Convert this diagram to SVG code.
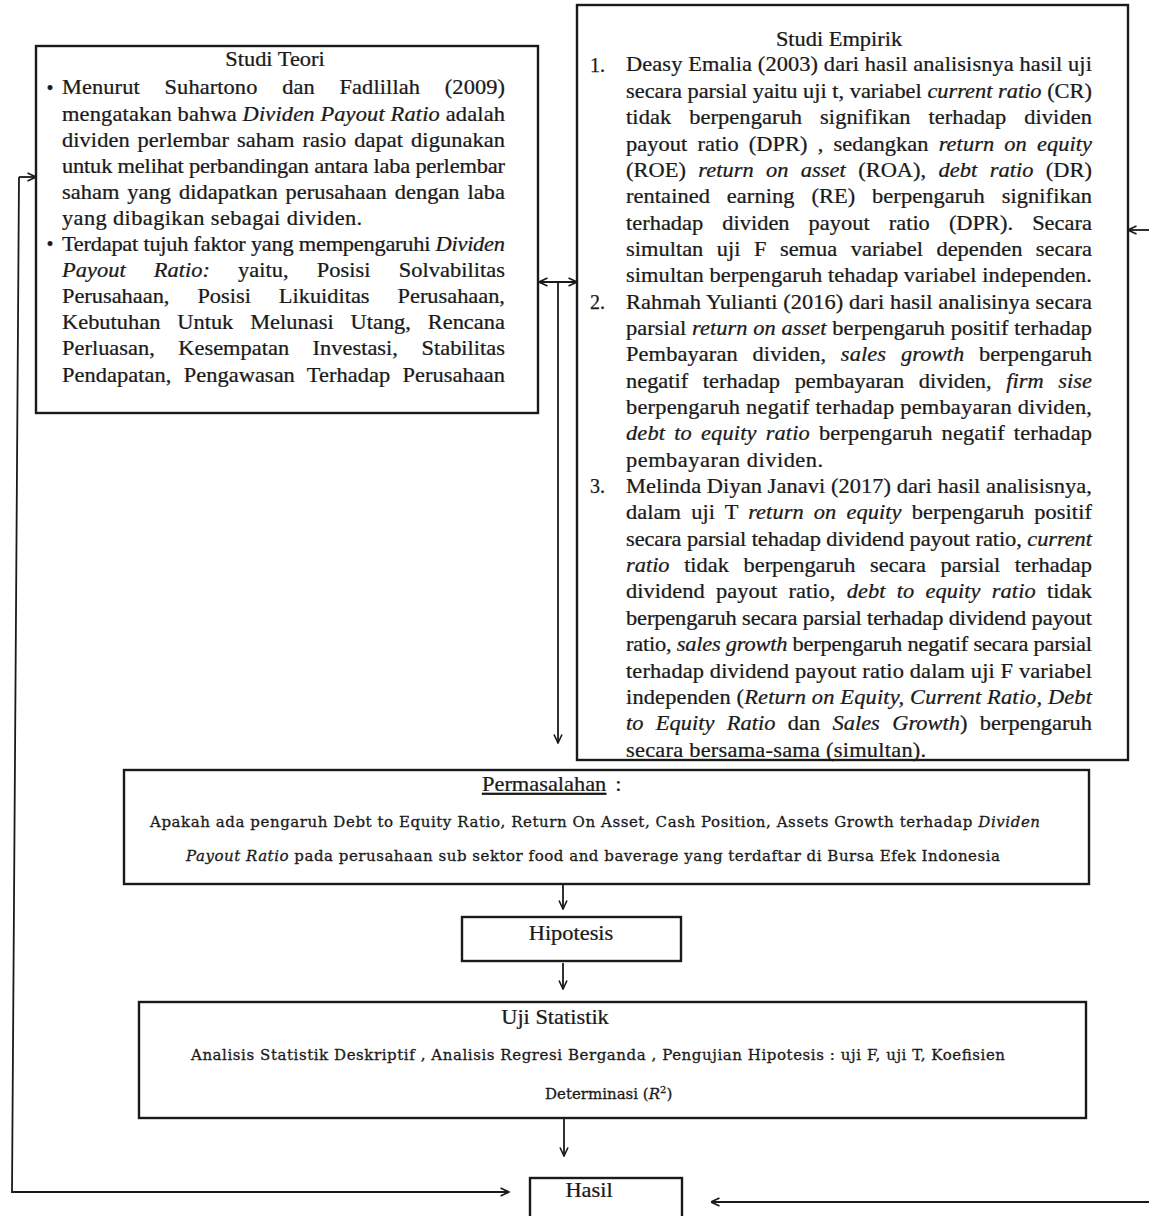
<svg xmlns="http://www.w3.org/2000/svg" width="1149" height="1216" viewBox="0 0 1149 1216">
<style>
.bg{fill:#ffffff}
.box{fill:#ffffff;stroke:#1a1a1a;stroke-width:2.4}
.t{font-family:"Liberation Serif","Times New Roman",serif;font-size:20px;fill:#1a1a1a;stroke:#1a1a1a;stroke-width:0.25}
.s{font-family:"DejaVu Serif",serif;font-size:15px;fill:#1a1a1a;stroke:#1a1a1a;stroke-width:0.3}
.i{font-style:italic}
.c{fill:none;stroke:#1a1a1a;stroke-width:1.8}
</style>
<defs>
<marker id="ah" viewBox="0 0 10 10" refX="9.5" refY="5" markerWidth="10" markerHeight="10" markerUnits="userSpaceOnUse" orient="auto-start-reverse">
<path d="M1,1 L9.5,5 L1,9" fill="none" stroke="#1a1a1a" stroke-width="1.6"/>
</marker>
</defs>
<rect class="bg" x="0" y="0" width="1149" height="1216"/>

<g id="studi-teori">
<rect class="box" x="36" y="46" width="502" height="367"/>
<text class="t" x="0" y="66" text-anchor="middle" transform="matrix(1.12,0,0,1,275,0)">Studi Teori</text>
<text class="t" x="50" y="94.5" text-anchor="middle">•</text>
<text class="t" x="50" y="251.1" text-anchor="middle">•</text>
<g transform="matrix(1.12,0,0,1,62,0)">
<text class="t" x="0" y="94.5" textLength="395.5" lengthAdjust="spacing" style="word-spacing:17px">Menurut Suhartono dan Fadlillah (2009)</text>
<text class="t" x="0" y="120.6" textLength="395.5" lengthAdjust="spacing">mengatakan bahwa <tspan class="i">Dividen Payout Ratio</tspan> adalah</text>
<text class="t" x="0" y="146.7" textLength="395.5" lengthAdjust="spacing" style="word-spacing:2px">dividen perlembar saham rasio dapat digunakan</text>
<text class="t" x="0" y="172.8" textLength="395.5" lengthAdjust="spacing">untuk melihat perbandingan antara laba perlembar</text>
<text class="t" x="0" y="198.9" textLength="395.5" lengthAdjust="spacing" style="word-spacing:2px">saham yang didapatkan perusahaan dengan laba</text>
<text class="t" x="0" y="225" textLength="268" lengthAdjust="spacing">yang dibagikan sebagai dividen.</text>
<text class="t" x="0" y="251.1" textLength="395.5" lengthAdjust="spacing">Terdapat tujuh faktor yang mempengaruhi <tspan class="i">Dividen</tspan></text>
<text class="t" x="0" y="277.2" textLength="395.5" lengthAdjust="spacing" style="word-spacing:20px"><tspan class="i">Payout Ratio:</tspan> yaitu, Posisi Solvabilitas</text>
<text class="t" x="0" y="303.3" textLength="395.5" lengthAdjust="spacing" style="word-spacing:20px">Perusahaan, Posisi Likuiditas Perusahaan,</text>
<text class="t" x="0" y="329.4" textLength="395.5" lengthAdjust="spacing" style="word-spacing:10px">Kebutuhan Untuk Melunasi Utang, Rencana</text>
<text class="t" x="0" y="355.5" textLength="395.5" lengthAdjust="spacing" style="word-spacing:16px">Perluasan, Kesempatan Investasi, Stabilitas</text>
<text class="t" x="0" y="381.6" textLength="395.5" lengthAdjust="spacing" style="word-spacing:6px">Pendapatan, Pengawasan Terhadap Perusahaan</text>
</g>
</g>

<g id="studi-empirik">
<rect class="box" x="577" y="5" width="551" height="755"/>
<text class="t" x="0" y="46" text-anchor="middle" transform="matrix(1.12,0,0,1,839,0)">Studi Empirik</text>
<text class="t" x="590" y="71.5">1.</text>
<text class="t" x="590" y="308.7">2.</text>
<text class="t" x="590" y="493.1">3.</text>
<g transform="matrix(1.12,0,0,1,626,0)">
<text class="t" x="0" y="71.5" textLength="416" lengthAdjust="spacing">Deasy Emalia (2003) dari hasil analisisnya hasil uji</text>
<text class="t" x="0" y="97.9" textLength="416" lengthAdjust="spacing">secara parsial yaitu uji t, variabel <tspan class="i">current ratio</tspan> (CR)</text>
<text class="t" x="0" y="124.2" textLength="416" lengthAdjust="spacing" style="word-spacing:11px">tidak berpengaruh signifikan terhadap dividen</text>
<text class="t" x="0" y="150.6" textLength="416" lengthAdjust="spacing" style="word-spacing:4px">payout ratio (DPR) , sedangkan <tspan class="i">return on equity</tspan></text>
<text class="t" x="0" y="176.9" textLength="416" lengthAdjust="spacing" style="word-spacing:6px">(ROE) <tspan class="i">return on asset</tspan> (ROA), <tspan class="i">debt ratio</tspan> (DR)</text>
<text class="t" x="0" y="203.3" textLength="416" lengthAdjust="spacing" style="word-spacing:10px">rentained earning (RE) berpengaruh signifikan</text>
<text class="t" x="0" y="229.6" textLength="416" lengthAdjust="spacing" style="word-spacing:12px">terhadap dividen payout ratio (DPR). Secara</text>
<text class="t" x="0" y="256" textLength="416" lengthAdjust="spacing" style="word-spacing:7px">simultan uji F semua variabel dependen secara</text>
<text class="t" x="0" y="282.3" textLength="416" lengthAdjust="spacing">simultan berpengaruh tehadap variabel independen.</text>
<text class="t" x="0" y="308.7" textLength="416" lengthAdjust="spacing">Rahmah Yulianti (2016) dari hasil analisinya secara</text>
<text class="t" x="0" y="335" textLength="416" lengthAdjust="spacing">parsial <tspan class="i">return on asset</tspan> berpengaruh positif terhadap</text>
<text class="t" x="0" y="361.4" textLength="416" lengthAdjust="spacing" style="word-spacing:8px">Pembayaran dividen, <tspan class="i">sales growth</tspan> berpengaruh</text>
<text class="t" x="0" y="387.7" textLength="416" lengthAdjust="spacing" style="word-spacing:8px">negatif terhadap pembayaran dividen, <tspan class="i">firm sise</tspan></text>
<text class="t" x="0" y="414.1" textLength="416" lengthAdjust="spacing">berpengaruh negatif terhadap pembayaran dividen,</text>
<text class="t" x="0" y="440.4" textLength="416" lengthAdjust="spacing" style="word-spacing:3px"><tspan class="i">debt to equity ratio</tspan> berpengaruh negatif terhadap</text>
<text class="t" x="0" y="466.8" textLength="176" lengthAdjust="spacing">pembayaran dividen.</text>
<text class="t" x="0" y="493.1" textLength="416" lengthAdjust="spacing">Melinda Diyan Janavi (2017) dari hasil analisisnya,</text>
<text class="t" x="0" y="519.5" textLength="416" lengthAdjust="spacing" style="word-spacing:4px">dalam uji T <tspan class="i">return on equity</tspan> berpengaruh positif</text>
<text class="t" x="0" y="545.8" textLength="416" lengthAdjust="spacing">secara parsial tehadap dividend payout ratio, <tspan class="i">current</tspan></text>
<text class="t" x="0" y="572.2" textLength="416" lengthAdjust="spacing" style="word-spacing:8px"><tspan class="i">ratio</tspan> tidak berpengaruh secara parsial terhadap</text>
<text class="t" x="0" y="598.5" textLength="416" lengthAdjust="spacing" style="word-spacing:5px">dividend payout ratio, <tspan class="i">debt to equity ratio</tspan> tidak</text>
<text class="t" x="0" y="624.9" textLength="416" lengthAdjust="spacing">berpengaruh secara parsial terhadap dividend payout</text>
<text class="t" x="0" y="651.2" textLength="416" lengthAdjust="spacing">ratio, <tspan class="i">sales growth</tspan> berpengaruh negatif secara parsial</text>
<text class="t" x="0" y="677.6" textLength="416" lengthAdjust="spacing">terhadap dividend payout ratio dalam uji F variabel</text>
<text class="t" x="0" y="703.9" textLength="416" lengthAdjust="spacing">independen (<tspan class="i">Return on Equity, Current Ratio, Debt</tspan></text>
<text class="t" x="0" y="730.3" textLength="416" lengthAdjust="spacing" style="word-spacing:6px"><tspan class="i">to Equity Ratio</tspan> dan <tspan class="i">Sales Growth</tspan>) berpengaruh</text>
<text class="t" x="0" y="756.6" textLength="268" lengthAdjust="spacing">secara bersama-sama (simultan).</text>
</g>
</g>

<g id="permasalahan">
<rect class="box" x="124" y="770" width="965" height="114"/>
<text class="t" x="0" y="791" transform="matrix(1.12,0,0,1,482,0)"><tspan style="text-decoration:underline">Permasalahan</tspan><tspan dx="8">:</tspan></text>
<text class="s" x="150" y="827" textLength="890" lengthAdjust="spacing">Apakah ada pengaruh Debt to Equity Ratio, Return On Asset,  Cash Position, Assets Growth  terhadap <tspan class="i">Dividen</tspan></text>
<text class="s" x="186" y="861" textLength="814" lengthAdjust="spacing"><tspan class="i">Payout Ratio</tspan> pada perusahaan sub sektor food and baverage yang terdaftar di Bursa Efek Indonesia</text>
</g>

<g id="hipotesis">
<rect class="box" x="462" y="917" width="219" height="44"/>
<text class="t" x="0" y="940" font-size="22" text-anchor="middle" transform="matrix(1.12,0,0,1,571,0)">Hipotesis</text>
</g>

<g id="uji-statistik">
<rect class="box" x="139" y="1002" width="947" height="116"/>
<text class="t" x="0" y="1024" font-size="22" text-anchor="middle" transform="matrix(1.12,0,0,1,555,0)">Uji Statistik</text>
<text class="s" x="191" y="1060" textLength="814" lengthAdjust="spacing">Analisis Statistik  Deskriptif , Analisis Regresi Berganda , Pengujian Hipotesis : uji F, uji T,  Koefisien</text>
<text class="s" x="545" y="1099">Determinasi (<tspan class="i">R</tspan><tspan font-size="10" dy="-6">2</tspan><tspan dy="6">)</tspan></text>
</g>

<g id="hasil">
<rect class="box" x="530" y="1178" width="152" height="45"/>
<text class="t" x="0" y="1197" text-anchor="middle" transform="matrix(1.12,0,0,1,589,0)">Hasil</text>
</g>

<g id="connectors">
<polyline class="c" points="19,177 12,1192 509,1192" marker-end="url(#ah)"/>
<line class="c" x1="19" y1="177" x2="36" y2="177" marker-end="url(#ah)"/>
<line class="c" x1="1149" y1="230" x2="1128" y2="230" marker-end="url(#ah)"/>
<line class="c" x1="1149" y1="1202" x2="711" y2="1202" marker-end="url(#ah)"/>
<line class="c" x1="539" y1="282" x2="577" y2="282" marker-start="url(#ah)" marker-end="url(#ah)"/>
<line class="c" x1="558" y1="282" x2="558" y2="743" marker-end="url(#ah)"/>
<line class="c" x1="563" y1="885" x2="563" y2="909" marker-end="url(#ah)"/>
<line class="c" x1="563" y1="963" x2="563" y2="989" marker-end="url(#ah)"/>
<line class="c" x1="564" y1="1118" x2="564" y2="1156" marker-end="url(#ah)"/>
</g>
</svg>
